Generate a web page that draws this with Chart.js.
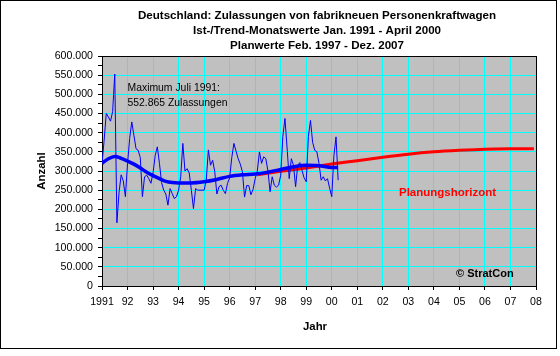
<!DOCTYPE html>
<html><head><meta charset="utf-8">
<script src="https://cdn.jsdelivr.net/npm/chart.js@4"></script>
<style>html,body{margin:0;padding:0;background:#fff;}canvas{display:block;}</style>
</head><body>
<canvas id="c" width="560" height="356"></canvas>
<script>
const titleLines = [
  'Deutschland: Zulassungen von fabrikneuen Personenkraftwagen',
  'Ist-/Trend-Monatswerte Jan. 1991 - April 2000',
  'Planwerte Feb. 1997 - Dez. 2007'
];
const xTitle = 'Jahr';
const yTitle = 'Anzahl';
const noteMax = ['Maximum Juli 1991:', '552.865 Zulassungen'];
const notePlan = 'Planungshorizont';
const noteCopy = '\u00A9 StratCon';

const xTickYears = [1991,1992,1993,1994,1995,1996,1997,1998,1999,2000,2001,2002,2003,2004,2005,2006,2007,2008];
const xTickLabels = ['1991','92','93','94','95','96','97','98','99','00','01','02','03','04','05','06','07','08'];
const yMajorStep = 50000;
const yMinorStep = 25000;
const yMax = 600000;

// Ist-Monatswerte Jan. 1991 - April 2000
const monthlyStartYear = 1991;
const monthlyValues = [
  319000,380000,450000,441000,430000,455000,552865,165000,243000,290000,274000,233000,
  319000,385000,428000,393000,358000,354000,335000,233000,285000,289000,280000,268000,
  295000,340000,363000,320000,270000,250000,240000,211000,254000,241000,228000,233000,
  250000,285000,372000,300000,306000,295000,250000,202000,254000,250000,250000,250000,
  250000,276000,355000,315000,328000,298000,240000,259000,263000,250000,241000,268000,
  282000,335000,372000,352000,332000,318000,298000,232000,262000,262000,238000,252000,
  280000,300000,350000,320000,337000,332000,300000,246000,285000,263000,258000,263000,
  289000,390000,437000,360000,280000,332000,315000,259000,315000,322000,302000,282000,
  272000,390000,432000,375000,354000,350000,320000,276000,285000,274000,280000,255000,
  233000,340000,389000,276000
];

// Trend
const trendYears  = [1991.0,1991.25,1991.5,1991.75,1992.0,1992.25,1992.5,1992.75,1993.0,1993.25,1993.5,1993.75,1994.0,1994.5,1995.0,1995.5,1996.0,1996.5,1997.0,1997.5,1998.0,1998.5,1999.0,1999.5,2000.0,2000.25];
const trendValues = [320000,332000,338000,333000,326000,318000,308000,297000,288000,280000,273000,270000,269000,269000,272000,278000,286000,290000,292000,297000,304000,311000,315000,314000,309000,309000];

// Planwerte Feb. 1997 - Dez. 2007
const planYears  = [1997.083,1998,1999,2000,2001,2002,2003,2004,2005,2006,2007,2007.917];
const planValues = [290000,299000,308000,318000,327000,336000,344000,350000,354000,357000,358000,358000];

const FONT = '"Liberation Sans", Arial, sans-serif';

function fmt(v){ return String(Math.round(v)).replace(/\B(?=(\d{3})+(?!\d))/g, '.'); }

const decor = {
  id: 'decor',
  beforeDraw(chart){
    const {ctx, chartArea:a} = chart;
    ctx.save();
    ctx.fillStyle = '#ffffff';
    ctx.fillRect(0,0,chart.width,chart.height);
    ctx.fillStyle = '#c0c0c0';
    ctx.fillRect(a.left, a.top, a.right-a.left, a.bottom-a.top);
    ctx.restore();
  },
  beforeDatasetsDraw(chart){
    const {ctx, chartArea:a} = chart;
    ctx.save();
    ctx.strokeStyle = '#000';
    ctx.lineWidth = 1;
    ctx.strokeRect(Math.round(a.left)+0.5, Math.round(a.top)+0.5, Math.round(a.right-a.left), Math.round(a.bottom-a.top));
    ctx.restore();
  },
  afterDraw(chart){
    const ctx = chart.ctx;
    ctx.save();
    ctx.strokeStyle = '#000'; ctx.lineWidth = 1;
    ctx.strokeRect(0.5, 0.5, 556, 348);
    ctx.fillStyle = '#000';
    ctx.textAlign = 'center'; ctx.textBaseline = 'middle';
    ctx.font = 'bold 11.6px ' + FONT;
    ctx.fillText(titleLines[0], 317, 16);
    ctx.fillText(titleLines[1], 317, 31);
    ctx.fillText(titleLines[2], 317, 46);
    ctx.font = 'bold 11.4px ' + FONT;
    ctx.fillText(xTitle, 315, 327);
    ctx.save();
    ctx.translate(42, 171); ctx.rotate(-Math.PI/2);
    ctx.fillText(yTitle, 0, 0);
    ctx.restore();
    ctx.textAlign = 'left';
    ctx.font = '10.4px ' + FONT;
    ctx.fillText(noteMax[0], 127.5, 88);
    ctx.fillText(noteMax[1], 127.5, 103);
    ctx.font = 'bold 11.5px ' + FONT;
    ctx.fillStyle = '#ff0000';
    ctx.fillText(notePlan, 399, 193);
    ctx.fillStyle = '#000';
    ctx.font = 'bold 11px ' + FONT;
    ctx.fillText(noteCopy, 456, 274);
    ctx.restore();
  }
};

const monthlyPts = monthlyValues.map((v,i)=>({x: monthlyStartYear + i/12, y: v}));
const trendPts = trendYears.map((x,i)=>({x, y: trendValues[i]}));
const planPts = planYears.map((x,i)=>({x, y: planValues[i]}));

new Chart(document.getElementById('c'), {
  type: 'line',
  data: { datasets: [
    { data: planPts, borderColor: '#ff0000', borderWidth: 3, pointRadius: 0, tension: 0.3, order: 3 },
    { data: monthlyPts, borderColor: '#0000ff', borderWidth: 1, pointRadius: 0, tension: 0, borderJoinStyle: 'round', order: 2 },
    { data: trendPts, borderColor: '#0000ff', borderWidth: 3.5, pointRadius: 0, tension: 0.4, cubicInterpolationMode: 'monotone', order: 1 }
  ]},
  options: {
    responsive: false, animation: false, devicePixelRatio: 1,
    layout: { padding: { top: 56, right: 24, left: 0, bottom: 0 } },
    plugins: { legend: { display: false }, tooltip: { enabled: false }, title: { display: false } },
    scales: {
      x: {
        type: 'linear', min: 1991, max: 2008,
        afterBuildTicks: s => { s.ticks = xTickYears.map(v => ({value: v})); },
        afterFit: s => { s.height = 70; },
        grid: { color: '#00ffff', tickColor: '#000', tickLength: 4, lineWidth: 1 },
        border: { color: '#000', width: 1 },
        ticks: { color: '#000', font: { family: FONT, size: 10.6 }, padding: 6, maxRotation: 0, autoSkip: false,
          callback: (v, i) => xTickLabels[i] }
      },
      y: {
        type: 'linear', min: 0, max: yMax,
        afterBuildTicks: s => { const t=[]; for (let v=0; v<=yMax; v+=yMinorStep) t.push({value:v}); s.ticks = t; },
        afterFit: s => { s.width = 102; },
        grid: { color: c => (c.tick && c.tick.value % yMajorStep === 0) ? '#00ffff' : 'rgba(0,0,0,0)', tickColor: '#000', tickLength: 4, lineWidth: 1 },
        border: { color: '#000', width: 1 },
        ticks: { color: '#000', font: { family: FONT, size: 10.6 }, padding: 5, autoSkip: false,
          callback: v => (v % yMajorStep === 0) ? fmt(v) : '' }
      }
    }
  },
  plugins: [decor]
});
</script>
</body></html>
